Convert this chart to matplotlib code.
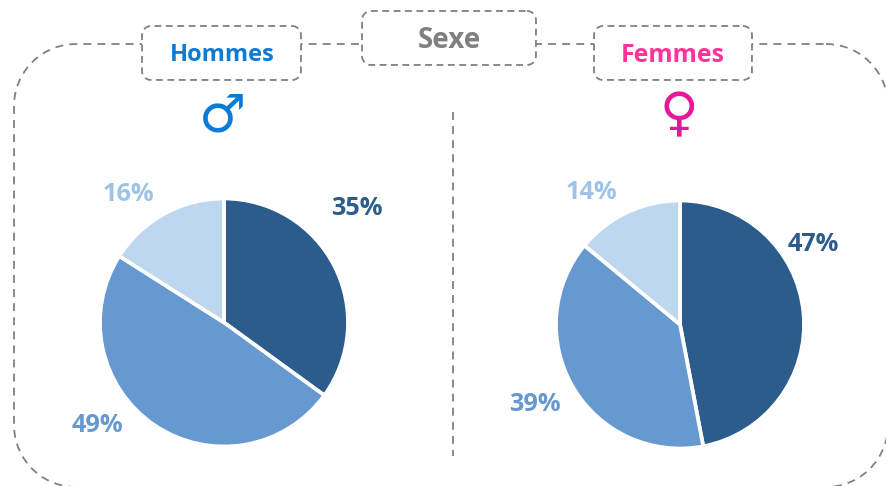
import matplotlib
matplotlib.use("Agg")
import matplotlib.pyplot as plt
import numpy as np
from matplotlib.patches import Polygon

W, H = 886, 486
men_values = [35, 49, 16]
women_values = [47, 39, 14]
men_labels = ["35%", "49%", "16%"]
women_labels = ["47%", "39%", "14%"]
colors = ["#2C5C8C", "#6699CF", "#BDD7EE"]
GRAY = "#808080"
BLUE = "#0B7BD6"
PINK = "#FF3399"
FONT = "Open Sans"

fig = plt.figure(figsize=(W / 100, H / 100), dpi=100, facecolor="white")

bg = fig.add_axes([0, 0, 1, 1], zorder=2)
bg.set_xlim(0, W)
bg.set_ylim(H, 0)
bg.axis("off")
bg.patch.set_alpha(0)

dash_big = (0, (4.4, 3.4))
dash_box = (0, (3.8, 2.5))
LW = 1.3


def rbox(x0, y0, x1, y1, r, z=1, fill="none", dash=dash_box):
    xs, ys = [], []
    corners = [(x1 - r, y0 + r, -90), (x1 - r, y1 - r, 0),
               (x0 + r, y1 - r, 90), (x0 + r, y0 + r, 180)]
    for cx, cy, start in corners:
        t = np.radians(np.linspace(start, start + 90, 40))
        xs.extend(cx + r * np.cos(t))
        ys.extend(cy + r * np.sin(t))
    xs.append(xs[0])
    ys.append(ys[0])
    if fill != "none":
        bg.add_patch(Polygon(np.column_stack([xs, ys]), fc=fill, ec="none", zorder=z))
    bg.plot(xs, ys, color=GRAY, lw=LW, ls=dash, zorder=z, dash_capstyle="butt")


rbox(14, 44, 888, 487, 62, z=1, dash=dash_big)
rbox(142, 26, 301, 80, 9, z=2, fill="white")
rbox(362, 11, 536, 65, 9, z=2, fill="white")
rbox(594, 26, 752, 80, 9, z=2, fill="white")
bg.plot([453, 453], [112, 456], color=GRAY, lw=LW, ls=dash_big, zorder=1)

bg.text(222, 55, "Hommes", color=BLUE, fontsize=17, fontweight="bold",
        family=FONT, ha="center", va="center", zorder=3)
bg.text(449, 41, "Sexe", color=GRAY, fontsize=20, fontweight="bold",
        family=FONT, ha="center", va="center", zorder=3)
bg.text(673, 55, "Femmes", color=PINK, fontsize=17.8, fontweight="bold",
        family=FONT, ha="center", va="center", zorder=3)
bg.text(223, 116, "\u2642", color=BLUE, fontsize=38, fontweight="bold", family="DejaVu Sans",
        ha="center", va="center", zorder=3)
bg.text(679, 115, "\u2640", color="#E6189A", fontsize=38, fontweight="bold", family="DejaVu Sans",
        ha="center", va="center", zorder=3)


def draw_pie(values, cx, cy, r):
    ax = fig.add_axes([(cx - r) / W, 1 - (cy + r) / H, 2 * r / W, 2 * r / H], zorder=1)
    ax.pie(values, colors=colors, startangle=90, counterclock=False, radius=1,
           wedgeprops=dict(edgecolor="white", linewidth=2.7))
    ax.set_xlim(-1, 1)
    ax.set_ylim(-1, 1)
    for w in ax.patches:
        w.set_clip_on(False)


draw_pie(men_values, 224, 322.5, 124)
draw_pie(women_values, 680, 324.5, 124)

label_xy_men = [(357, 208), (97, 425), (128, 194)]
label_xy_women = [(813, 244), (535, 404), (591, 192)]
label_colors = ["#2C5C8C", "#6699CF", "#9DC3E6"]
for labels, xy in ((men_labels, label_xy_men), (women_labels, label_xy_women)):
    for s, (x, y), c in zip(labels, xy, label_colors):
        bg.text(x, y, s, color=c, fontsize=18.2, fontweight="bold", family=FONT,
                ha="center", va="center", zorder=3)

fig.savefig("out.png", dpi=100)
